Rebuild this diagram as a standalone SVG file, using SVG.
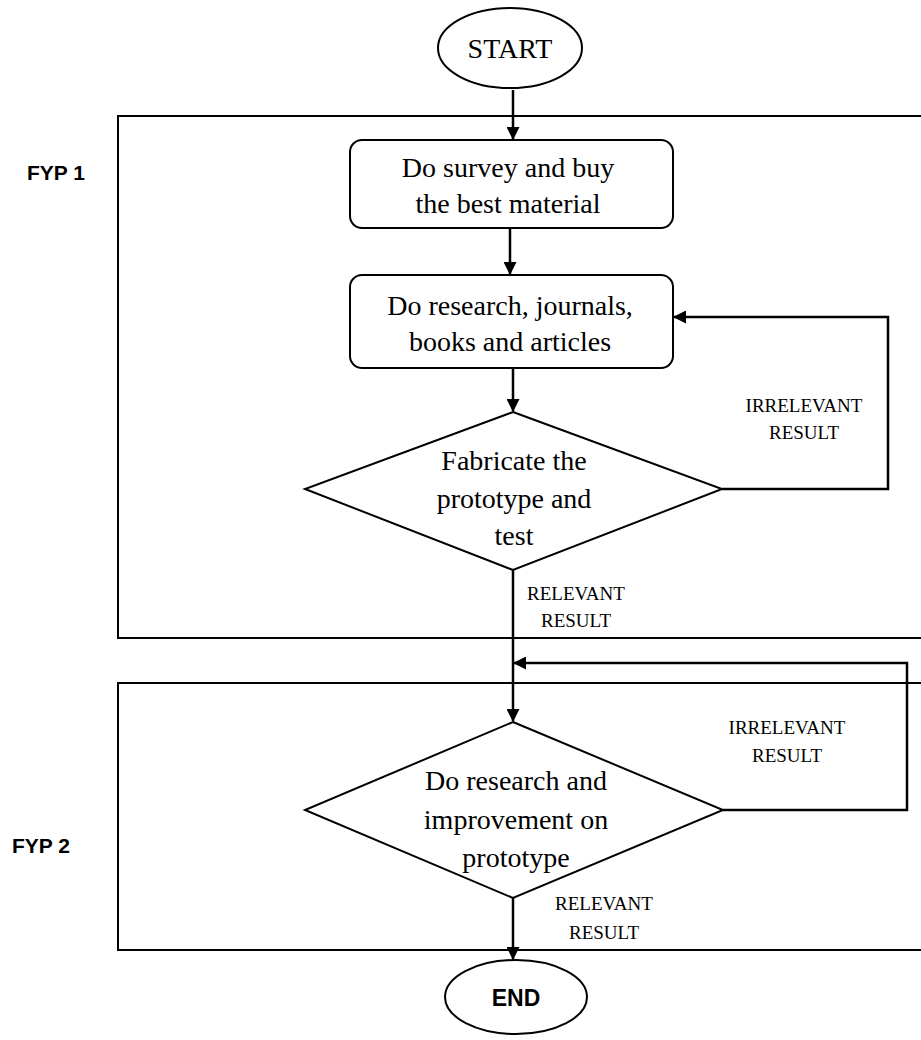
<svg xmlns="http://www.w3.org/2000/svg" width="921" height="1040" viewBox="0 0 921 1040">
<style>
.bg{fill:#fff}
.sec{fill:none;stroke:#000;stroke-width:2}
.shape{fill:#fff;stroke:#000;stroke-width:2}
.conn{fill:none;stroke:#000;stroke-width:2.5}
.t{font-family:"Liberation Serif","Times New Roman",serif;font-size:28px;fill:#000;text-anchor:middle}
.lbl{font-family:"Liberation Serif","Times New Roman",serif;font-size:19px;fill:#000;text-anchor:middle}
.side{font-family:"Liberation Sans",Arial,sans-serif;font-size:21px;font-weight:bold;fill:#000}
.end{font-family:"Liberation Sans",Arial,sans-serif;font-size:23px;font-weight:bold;fill:#000;text-anchor:middle}
</style>
<defs>
<marker id="arr" markerWidth="13" markerHeight="13" refX="12" refY="6.5" orient="auto" markerUnits="userSpaceOnUse">
<path d="M0,0 L13,6.5 L0,13 Z" fill="#000"/>
</marker>
</defs>
<rect class="bg" x="0" y="0" width="921" height="1040"/>
<g id="sections">
<rect id="fyp1-box" class="sec" x="118" y="116" width="820" height="522"/>
<rect id="fyp2-box" class="sec" x="118" y="683" width="820" height="267"/>
<text class="side" x="27" y="180">FYP 1</text>
<text class="side" x="12" y="853">FYP 2</text>
</g>
<g id="connectors">
<line class="conn" x1="513" y1="90" x2="513" y2="139" marker-end="url(#arr)"/>
<line class="conn" x1="510" y1="228" x2="510" y2="274" marker-end="url(#arr)"/>
<line class="conn" x1="513" y1="368" x2="513" y2="411" marker-end="url(#arr)"/>
<polyline class="conn" points="722,489 888,489 888,317 674,317" marker-end="url(#arr)"/>
<line class="conn" x1="513" y1="570" x2="513" y2="721" marker-end="url(#arr)"/>
<polyline class="conn" points="723,810 907,810 907,663 514,663" marker-end="url(#arr)"/>
<line class="conn" x1="513" y1="898" x2="513" y2="959" marker-end="url(#arr)"/>
<text class="lbl" x="804" y="412">IRRELEVANT</text>
<text class="lbl" x="804" y="439">RESULT</text>
<text class="lbl" x="576" y="600">RELEVANT</text>
<text class="lbl" x="576" y="627">RESULT</text>
<text class="lbl" x="787" y="734">IRRELEVANT</text>
<text class="lbl" x="787" y="762">RESULT</text>
<text class="lbl" x="604" y="910">RELEVANT</text>
<text class="lbl" x="604" y="939">RESULT</text>
</g>
<g id="start">
<ellipse class="shape" cx="510" cy="48" rx="72" ry="40"/>
<text class="t" x="510" y="58">START</text>
</g>
<g id="survey">
<rect class="shape" x="350" y="140" width="323" height="88" rx="12"/>
<text class="t" x="508" y="177">Do survey and buy</text>
<text class="t" x="508" y="213">the best material</text>
</g>
<g id="research">
<rect class="shape" x="350" y="275" width="323" height="93" rx="12"/>
<text class="t" x="510" y="315">Do research, journals,</text>
<text class="t" x="510" y="351">books and articles</text>
</g>
<g id="fabricate">
<polygon class="shape" points="513,412 722,489 513,570 305,489"/>
<text class="t" x="514" y="470">Fabricate the</text>
<text class="t" x="514" y="508">prototype and</text>
<text class="t" x="514" y="545">test</text>
</g>
<g id="improve">
<polygon class="shape" points="513,722 723,810 513,898 305,810"/>
<text class="t" x="516" y="790">Do research and</text>
<text class="t" x="516" y="829">improvement on</text>
<text class="t" x="516" y="867">prototype</text>
</g>
<g id="end">
<ellipse class="shape" cx="516" cy="997" rx="71" ry="37"/>
<text class="end" x="516" y="1006">END</text>
</g>
</svg>
